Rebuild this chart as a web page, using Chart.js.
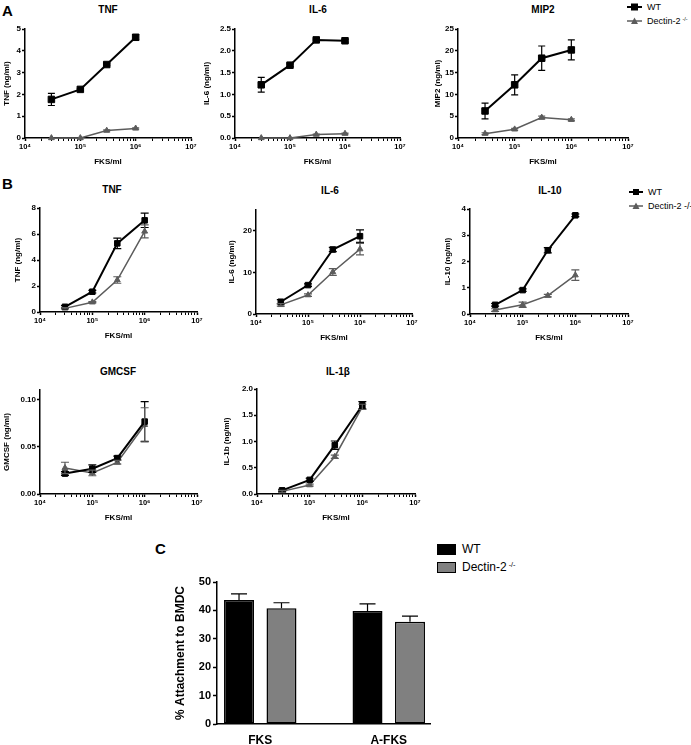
<!DOCTYPE html>
<html>
<head>
<meta charset="utf-8">
<script src="https://cdn.jsdelivr.net/npm/chart.js@4.4.0/dist/chart.umd.min.js"></script>
<style>
  body { margin: 0; background: #fff; width: 691px; height: 745px; position: relative; overflow: hidden;
         font-family: 'Liberation Sans', Arial, sans-serif; color: #000; }
  canvas { position: absolute; }
  .t { position: absolute; transform: translate(-50%, -50%); white-space: nowrap; line-height: 1; font-weight: bold; }
  .p { position: absolute; transform: translate(0, -50%); line-height: 1; font-weight: bold; font-size: 15px; }
  .lg { position: absolute; white-space: nowrap; line-height: 1; display: flex; align-items: center; }
  .lg sup { font-size: 0.6em; vertical-align: 0.5em; margin-left: 2px; }
  .box { display: inline-block; width: 17px; height: 9px; border: 1.5px solid #000; margin-right: 6px; }
</style>
</head>
<body>

<div class="p" style="left:2px;top:10px">A</div>
<div class="p" style="left:2px;top:183px">B</div>
<div class="p" style="left:155px;top:548px">C</div>

<div class="t" style="left:108px;top:10px;font-size:10px">TNF</div>
<div class="t" style="left:318px;top:10px;font-size:10px">IL-6</div>
<div class="t" style="left:543px;top:10px;font-size:10px">MIP2</div>
<div class="t" style="left:112px;top:190px;font-size:10px">TNF</div>
<div class="t" style="left:330px;top:191px;font-size:10px">IL-6</div>
<div class="t" style="left:550px;top:191px;font-size:10px">IL-10</div>
<div class="t" style="left:118px;top:372px;font-size:10px">GMCSF</div>
<div class="t" style="left:338px;top:372px;font-size:10px">IL-1β</div>

<!-- legends -->
<div class="lg" style="left:627px;top:2px;font-size:9px">
  <svg width="15" height="10"><line x1="0" y1="5" x2="15" y2="5" stroke="#000" stroke-width="2"/><rect x="4" y="1.5" width="7" height="7" fill="#000"/></svg>
  <span style="margin-left:5px">WT</span>
</div>
<div class="lg" style="left:627px;top:16px;font-size:9px">
  <svg width="15" height="10"><line x1="0" y1="5" x2="15" y2="5" stroke="#5c5c5c" stroke-width="1.5"/><polygon points="7.5,1.5 11,8 4,8" fill="#5c5c5c"/></svg>
  <span style="margin-left:5px">Dectin-2<sup>-/-</sup></span>
</div>
<div class="lg" style="left:629px;top:187px;font-size:9px">
  <svg width="14" height="10"><line x1="0" y1="5" x2="14" y2="5" stroke="#000" stroke-width="2"/><rect x="4" y="2" width="6" height="6" fill="#000"/></svg>
  <span style="margin-left:5px">WT</span>
</div>
<div class="lg" style="left:629px;top:201px;font-size:9px">
  <svg width="14" height="10"><line x1="0" y1="5" x2="14" y2="5" stroke="#5c5c5c" stroke-width="1.5"/><polygon points="7,1.5 10.5,8 3.5,8" fill="#5c5c5c"/></svg>
  <span style="margin-left:5px">Dectin-2 -/-</span>
</div>
<div class="lg" style="left:437px;top:543px;font-size:12px">
  <span class="box" style="background:#000"></span><span>WT</span>
</div>
<div class="lg" style="left:437px;top:561px;font-size:12px">
  <span class="box" style="background:#808080"></span><span>Dectin-2<sup>-/-</sup></span>
</div>

<script>
Chart.defaults.font.family = "'Liberation Sans', Arial, sans-serif";
Chart.defaults.color = '#000';

// FKS doses and log axis labels
const doses = [3e4, 1e5, 3e5, 1e6];
const xDecades = [1e4, 1e5, 1e6, 1e7];
const xDecadeLabels = ['10⁴', '10⁵', '10⁶', '10⁷'];

// panel A
const aTnfWT = [1.77, 2.23, 3.37, 4.62];
const aTnfWTErr = [0.28, 0.04, 0.04, 0.12];
const aTnfKO = [0.0, 0.0, 0.34, 0.44];
const aTnfKOErr = [0, 0, 0.03, 0.03];

const aIl6WT = [1.22, 1.67, 2.25, 2.23];
const aIl6WTErr = [0.17, 0.03, 0.02, 0.03];
const aIl6KO = [0.0, 0.0, 0.08, 0.1];
const aIl6KOErr = [0, 0, 0.01, 0.01];

const aMip2WT = [6.2, 12.2, 18.3, 20.2];
const aMip2WTErr = [1.8, 2.3, 2.8, 2.3];
const aMip2KO = [1.0, 2.0, 4.7, 4.2];
const aMip2KOErr = [0.2, 0.2, 0.3, 0.2];

// panel B
const bTnfWT = [0.4, 1.56, 5.28, 7.05];
const bTnfWTErr = [0.1, 0.1, 0.4, 0.55];
const bTnfKO = [0.28, 0.75, 2.46, 6.2];
const bTnfKOErr = [0.05, 0.05, 0.25, 0.5];

const bIl6WT = [2.95, 6.95, 15.5, 18.7];
const bIl6WTErr = [0.5, 0.3, 0.5, 1.5];
const bIl6KO = [2.2, 4.55, 10.1, 15.6];
const bIl6KOErr = [0.3, 0.3, 0.8, 1.4];

const bIl10WT = [0.35, 0.91, 2.43, 3.76];
const bIl10WTErr = [0.05, 0.05, 0.1, 0.05];
const bIl10KO = [0.15, 0.35, 0.7, 1.48];
const bIl10KOErr = [0.05, 0.1, 0.05, 0.2];

const bGmcsfWT = [0.0216, 0.0268, 0.038, 0.0766];
const bGmcsfWTErr = [0.002, 0.004, 0.002, 0.021];
const bGmcsfKO = [0.0276, 0.0223, 0.0335, 0.0732];
const bGmcsfKOErr = [0.006, 0.003, 0.002, 0.018];

const bIl1bWT = [0.07, 0.27, 0.93, 1.69];
const bIl1bWTErr = [0.02, 0.03, 0.08, 0.07];
const bIl1bKO = [0.05, 0.17, 0.71, 1.66];
const bIl1bKOErr = [0.02, 0.02, 0.03, 0.05];

// panel C
const attachGroups = ['FKS', 'A-FKS'];
const attachWT = [43.7, 39.8];
const attachWTErr = [2.1, 2.5];
const attachKO = [40.8, 36.0];
const attachKOErr = [1.9, 2.0];

// draws mean +/- error whiskers on top of the points / bars
const errorBars = {
  id: 'errorBars',
  afterDatasetsDraw(chart) {
    const ctx = chart.ctx, ys = chart.scales.y;
    chart.data.datasets.forEach((ds, i) => {
      if (!ds.errors) return;
      const meta = chart.getDatasetMeta(i);
      ctx.save();
      ctx.strokeStyle = ds.errColor || ds.borderColor;
      ctx.lineWidth = 1.2;
      const cap = ds.capHalf || 3.5;
      meta.data.forEach((el, j) => {
        const e = ds.errors[j];
        if (!e) return;
        const v = ds.data[j].y;
        const yTop = ys.getPixelForValue(v + e);
        const yBot = ds.upOnly ? el.y : ys.getPixelForValue(v - e);
        ctx.beginPath();
        ctx.moveTo(el.x, yTop); ctx.lineTo(el.x, yBot);
        ctx.moveTo(el.x - cap, yTop); ctx.lineTo(el.x + cap, yTop);
        if (!ds.upOnly) { ctx.moveTo(el.x - cap, yBot); ctx.lineTo(el.x + cap, yBot); }
        ctx.stroke();
      });
      ctx.restore();
    });
  }
};

function addCanvas(left, top, w, h) {
  const cv = document.createElement('canvas');
  cv.width = w; cv.height = h;
  cv.style.left = left + 'px';
  cv.style.top = top + 'px';
  document.body.appendChild(cv);
  return cv;
}

// one dose-response panel; box = y-title x, chart area left/right/top/bottom
function doseChart(box, yTitle, yMax, yStep, dec, wt, wtErr, ko, koErr, big) {
  const left = box.yt - 5;
  const top = box.T - 10;
  const cv = addCanvas(left, top, box.R + 14 - left, box.B + 30 - top);
  new Chart(cv, {
    type: 'line',
    data: {
      datasets: [
        {
          data: doses.map((d, i) => ({ x: d, y: wt[i] })),
          errors: wtErr, capHalf: big ? 3.5 : 4,
          borderColor: '#000', backgroundColor: '#000', borderWidth: 2,
          pointStyle: 'rect', pointRadius: big ? 4.6 : 3.9, pointBorderWidth: 1,
          tension: 0, fill: false, clip: false
        },
        {
          data: doses.map((d, i) => ({ x: d, y: ko[i] })),
          errors: koErr, capHalf: big ? 3.5 : 4,
          borderColor: '#5c5c5c', backgroundColor: '#5c5c5c', borderWidth: 1.5,
          pointStyle: 'triangle', pointRadius: 3.4, pointBorderWidth: 1,
          tension: 0, fill: false, clip: false
        }
      ]
    },
    options: {
      responsive: false,
      animation: false,
      events: [],
      layout: { padding: { top: 10, right: 14, left: 0, bottom: 0 } },
      plugins: { legend: { display: false }, tooltip: { enabled: false } },
      scales: {
        x: {
          type: 'logarithmic', min: 1e4, max: 1e7,
          afterFit: s => { s.height = 30; },
          afterBuildTicks: s => {
            const t = [];
            for (let d = 0; d < xDecades.length; d++) {
              t.push({ value: xDecades[d], major: true });
              if (d < xDecades.length - 1)
                for (let k = 2; k <= 9; k++) t.push({ value: k * xDecades[d], major: false });
            }
            s.ticks = t;
          },
          ticks: {
            autoSkip: false, maxRotation: 0, padding: 1,
            font: { size: 7.5, weight: 'bold' },
            callback: v => { const k = xDecades.indexOf(v); return k < 0 ? '' : xDecadeLabels[k]; }
          },
          grid: { drawOnChartArea: false, tickLength: 3, tickColor: '#000',
                  tickWidth: c => (c.tick && c.tick.major ? 1.5 : 1) },
          border: { color: '#000', width: 1.5 },
          title: { display: true, text: 'FKS/ml', font: { size: 8, weight: 'bold' }, padding: { top: 0, bottom: 1 } }
        },
        y: {
          min: 0, max: yMax,
          afterFit: s => { s.width = box.L - left; },
          ticks: { stepSize: yStep, includeBounds: false, padding: 1,
                   font: { size: 8, weight: 'bold' }, callback: v => Number(v).toFixed(dec) },
          grid: { drawOnChartArea: false, tickLength: 3, tickColor: '#000', tickWidth: 1.5 },
          border: { color: '#000', width: 1.5 },
          title: { display: true, text: yTitle, font: { size: 8, weight: 'bold' }, padding: { top: 0, bottom: 0 } }
        }
      }
    },
    plugins: [errorBars]
  });
}

doseChart({ yt: 7, L: 25, R: 191, T: 29, B: 138 }, 'TNF (ng/ml)', 5, 1, 0, aTnfWT, aTnfWTErr, aTnfKO, aTnfKOErr, true);
doseChart({ yt: 207, L: 235, R: 400, T: 29, B: 138 }, 'IL-6 (ng/ml)', 2.5, 0.5, 1, aIl6WT, aIl6WTErr, aIl6KO, aIl6KOErr, true);
doseChart({ yt: 438, L: 458, R: 628, T: 29, B: 138 }, 'MIP2 (ng/ml)', 25, 5, 0, aMip2WT, aMip2WTErr, aMip2KO, aMip2KOErr, true);

doseChart({ yt: 18, L: 40, R: 197, T: 208, B: 312 }, 'TNF (ng/ml)', 8, 2, 0, bTnfWT, bTnfWTErr, bTnfKO, bTnfKOErr, false);
doseChart({ yt: 232, L: 256, R: 412, T: 210, B: 314 }, 'IL-6 (ng/ml)', 25, 10, 0, bIl6WT, bIl6WTErr, bIl6KO, bIl6KOErr, false);
doseChart({ yt: 448, L: 470, R: 628, T: 209, B: 314 }, 'IL-10 (ng/ml)', 4, 1, 0, bIl10WT, bIl10WTErr, bIl10KO, bIl10KOErr, false);
doseChart({ yt: 7, L: 40, R: 197, T: 390, B: 494 }, 'GMCSF (ng/ml)', 0.11, 0.05, 2, bGmcsfWT, bGmcsfWTErr, bGmcsfKO, bGmcsfKOErr, false);
doseChart({ yt: 227, L: 257, R: 415, T: 389, B: 494 }, 'IL-1b (ng/ml)', 2, 0.5, 1, bIl1bWT, bIl1bWTErr, bIl1bKO, bIl1bKOErr, false);

// panel C: attachment bar chart
(function () {
  const left = 173, top = 572;
  const cv = addCanvas(left, top, 267, 745 - top);
  new Chart(cv, {
    type: 'bar',
    data: {
      datasets: [
        {
          data: attachGroups.map((g, i) => ({ x: i, y: attachWT[i] })),
          errors: attachWTErr, upOnly: true, capHalf: 8, errColor: '#000',
          backgroundColor: '#000', borderColor: '#000', borderWidth: 1.5, borderSkipped: false,
          categoryPercentage: 0.661, barPercentage: 0.706
        },
        {
          data: attachGroups.map((g, i) => ({ x: i, y: attachKO[i] })),
          errors: attachKOErr, upOnly: true, capHalf: 8, errColor: '#000',
          backgroundColor: '#808080', borderColor: '#000', borderWidth: 1.5, borderSkipped: false,
          categoryPercentage: 0.661, barPercentage: 0.706
        }
      ]
    },
    options: {
      responsive: false,
      animation: false,
      events: [],
      layout: { padding: { top: 10, right: 10, left: 0, bottom: 0 } },
      plugins: { legend: { display: false }, tooltip: { enabled: false } },
      scales: {
        x: {
          type: 'linear', min: -0.3366, max: 1.321, offset: false,
          afterFit: s => { s.height = 21; },
          afterBuildTicks: s => { s.ticks = attachGroups.map((g, i) => ({ value: i })); },
          ticks: { autoSkip: false, maxRotation: 0, padding: 9,
                   font: { size: 12, weight: 'bold' }, callback: v => attachGroups[v] },
          grid: { drawOnChartArea: false, drawTicks: false, offset: false },
          border: { color: '#000', width: 1.5 }
        },
        y: {
          min: 0, max: 50,
          afterFit: s => { s.width = 217 - left; },
          ticks: { stepSize: 10, padding: 2, font: { size: 11, weight: 'bold' } },
          grid: { drawOnChartArea: false, tickLength: 4, tickColor: '#000', tickWidth: 1.5 },
          border: { color: '#000', width: 1.5 },
          title: { display: true, text: '% Attachment to BMDC', font: { size: 12, weight: 'bold' }, padding: { top: 0, bottom: 0 } }
        }
      }
    },
    plugins: [errorBars]
  });
})();
</script>
</body>
</html>
